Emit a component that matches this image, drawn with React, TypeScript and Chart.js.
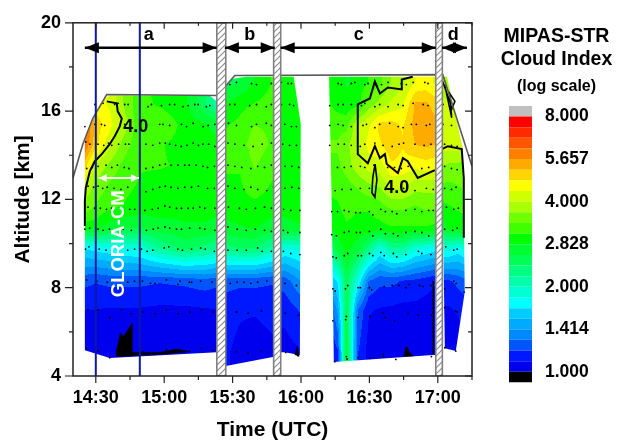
import React, { useEffect, useRef } from "react";
import { Chart, registerables } from "chart.js";

Chart.register(...registerables);

const FONT = '"Liberation Sans", Arial, sans-serif';

// Time is minutes after 14:00 UTC, altitude is km.
const xTickLabels: Record<number, string> = { 30: "14:30", 60: "15:00", 90: "15:30", 120: "16:00", 150: "16:30", 180: "17:00" };
const xTicks = [30, 45, 60, 75, 90, 105, 120, 135, 150, 165, 180, 195];
const yTicks = [4, 6, 8, 10, 12, 14, 16, 18, 20];

const colorBounds = [1, 1.09, 1.19, 1.3, 1.41, 1.54, 1.68, 1.83, 2, 2.18, 2.38, 2.59, 2.83, 3.08, 3.36, 3.67, 4, 4.36, 4.76, 5.19, 5.66, 6.17, 6.73, 7.34, 8];
const colorLevels = ["#0000ee", "#0018ff", "#0055ff", "#0088ff", "#00aaff", "#00ccff", "#00ffff", "#00ffd5", "#00ffaa", "#00ff80", "#00ff55", "#00ff30", "#00ff00", "#40ff00", "#70ff00", "#aaff00", "#d0ff00", "#ffff00", "#ffd500", "#ffaa00", "#ff8000", "#ff5500", "#ff2a00", "#ff0000"];
const colorbarTicks = [1, 1.414, 2, 2.828, 4, 5.657, 8];

// Altitudes of the grid rows, top to bottom (each column below follows this order).
const gridAlts = [17.3, 16.3, 15.4, 14.5, 13.55, 12.6, 11.6, 10.7, 9.8, 8.3, 7, 5.1];

const blockATimes = [25.2, 30, 36.1, 42.7, 49.3, 58, 69, 77.8, 83];
const blockAValues = [
  [6.4, 6.4, 6.4, 6.2, 5, 3.95, 3.5, 2.9, 1.7, 1.22, 1.09, 1.05],
  [4.6, 4.6, 5, 4.9, 3.95, 3.6, 3.3, 2.9, 1.75, 1.2, 1.09, 1.05],
  [4.3, 4.3, 4.5, 4.1, 3.6, 3.3, 3.1, 2.7, 1.8, 1.22, 1.08, 1.03],
  [3.6, 3.6, 3.85, 3.5, 3.25, 3.15, 3.05, 2.6, 1.85, 1.22, 1.08, 1.02],
  [3.15, 3.15, 3.1, 3.15, 3.1, 3.05, 2.95, 2.6, 1.9, 1.22, 1.08, 1.02],
  [3, 3.05, 3.3, 3.1, 3.1, 3, 2.95, 2.7, 2.2, 1.2, 1.07, 1.02],
  [2.9, 2.9, 3, 3, 3.05, 3, 2.9, 2.8, 2.45, 1.22, 1.07, 1.02],
  [2.4, 2.4, 2.85, 2.9, 3, 2.95, 2.9, 2.8, 2.3, 1.25, 1.08, 1.03],
  [2.1, 2.1, 2.75, 2.9, 2.95, 2.95, 2.9, 2.75, 2.2, 1.22, 1.09, 1.05],
];
const blockAOutline = [[25.2, 5.17], [36.1, 4.81], [83.1, 5.08], [83.1, 16.44], [80, 16.71], [36.1, 16.71], [33.9, 16.57], [29.6, 15.85], [25.2, 14.64]];

const blockBTimes = [87, 93.2, 99.7, 107.6, 112.9, 119.5];
const blockBValues = [
  [2.5, 2.85, 3.05, 3.2, 3.1, 3.05, 2.95, 2.75, 2.3, 1.24, 1.12, 1.1],
  [2.6, 3, 3.15, 3.2, 3.1, 3.05, 3, 2.8, 2.4, 1.22, 1.1, 1.07],
  [2.85, 3.1, 3.35, 3.55, 3.4, 3.2, 3, 2.85, 2.4, 1.22, 1.1, 1.04],
  [3.1, 3.2, 3.3, 3.3, 3.15, 3.05, 2.95, 2.7, 2.1, 1.2, 1.12, 1.07],
  [2.95, 2.95, 3, 3, 3, 2.95, 2.9, 2.75, 1.85, 1.24, 1.12, 1.05],
  [2.85, 2.95, 2.95, 3.05, 2.95, 2.95, 2.95, 2.8, 1.9, 1.4, 1.2, 1.08],
];
const blockBOutline = [[87, 4.45], [87, 17.11], [90.1, 17.47], [96, 17.56], [116.8, 17.56], [119.9, 15.4], [119.5, 4.95], [112.9, 5.08], [111, 5.08], [107.6, 4.86]];

const blockCTimes = [132.6, 136.1, 140, 144.9, 149.7, 154.6, 159.8, 164.6, 170.3, 174.7, 179.1];
const blockCValues = [
  [2.95, 3.1, 3.2, 3.4, 3.3, 3.15, 3, 2.85, 2.3, 1.55, 1.18, 1.08],
  [2.95, 3, 3.2, 3.4, 3.3, 3.15, 3.05, 2.95, 2.7, 1.7, 1.45, 1.18],
  [2.8, 2.9, 3.25, 3.6, 3.5, 3.25, 3.15, 3.05, 2.9, 2.5, 2.55, 2.7],
  [2.9, 3, 3.95, 3.95, 3.9, 3.4, 3.1, 3, 2.7, 1.85, 1.3, 1.2],
  [3.1, 3.5, 4.3, 4.5, 4.2, 3.6, 3.1, 3, 2.3, 1.3, 1.1, 1.05],
  [3.3, 3.8, 4.9, 4.7, 4.2, 3.7, 3.2, 3, 1.85, 1.22, 1.08, 1.03],
  [3.7, 4.1, 4.9, 5.1, 4.7, 4.1, 3.4, 3.05, 2.2, 1.22, 1.07, 1.03],
  [3.9, 4.3, 4.7, 4.8, 4.6, 4.1, 3.4, 3.05, 2.2, 1.18, 1.06, 1.02],
  [4.4, 5.3, 5.4, 5.2, 4.5, 3.8, 3.3, 3.05, 1.9, 1.16, 1.06, 1.02],
  [4.5, 5.3, 5.5, 5.3, 4.6, 3.8, 3.4, 3.05, 1.85, 1.13, 1.05, 1.02],
  [4.3, 5, 5.3, 5.2, 4.5, 3.8, 3.4, 3, 1.75, 1.1, 1.04, 1.02],
];
const blockCOutline = [[132.3, 17.56], [179.2, 17.56], [179.2, 4.95], [177.8, 4.95], [134.4, 4.63], [133.4, 12.16]];

const blockDTimes = [182.2, 185.3, 188.8, 191.8];
const blockDValues = [
  [3.8, 4.1, 4.2, 4.15, 3.7, 3.3, 3, 2.7, 1.9, 1.18, 1.07, 1.02],
  [3.7, 4.05, 4.2, 4.2, 3.6, 3.3, 3.05, 2.9, 1.9, 1.18, 1.08, 1.02],
  [3.6, 3.95, 4.2, 4.2, 3.6, 3.35, 3.1, 2.95, 1.8, 1.22, 1.1, 1.04],
  [3.6, 3.85, 4.1, 4.1, 3.6, 3.4, 3.15, 2.95, 1.9, 1.26, 1.12, 1.07],
];
const blockDOutline = [[181.3, 17.56], [184, 17.56], [191, 14.28], [191.4, 11.93], [191.8, 7.79], [187.9, 5.13], [183.1, 5.26]];

// Flight envelope (grey line).
const envelope = [[20, 12.97], [24.3, 14.5], [28.7, 15.67], [34.8, 16.75], [83.07, 16.71], [87.5, 17.2], [91, 17.61], [182.2, 17.65], [195, 13.5]];

// 4.0 contours.
const contourA = [[34.8, 16.44], [39.2, 16.35], [39.6, 15.99], [41.4, 15.67], [40.5, 15.31], [38.3, 14.86], [36.1, 14.5], [32.6, 14.05], [29.6, 13.73], [27.4, 13.28], [25.6, 12.52], [25.2, 11.93], [25.2, 10.8]];
const contourC = [[169, 17.56], [164.2, 17.43], [164.2, 16.98], [158.1, 17.07], [154.6, 16.8], [152.4, 17.34], [150.2, 16.57], [144.9, 16.3], [144.9, 14.95], [144.9, 14.05], [149.3, 13.64], [152.4, 14.41], [154.6, 13.87], [156.8, 14.05], [157.6, 13.6], [162.5, 13.19], [164.7, 13.87], [166.8, 13.73], [171.2, 12.97], [178.7, 13.33]];
const contourCLoop = [[152.5, 13.6], [153.3, 12.9], [152.4, 12.1], [151.1, 12.3], [151.5, 13], [152.5, 13.6]];
const contourD = [[181.8, 14.28], [184.4, 14.41], [190.5, 14.28], [191.4, 12.97], [191.4, 10.26]];
const contourDTop = [[181.8, 17.43], [185.3, 16.44], [186.1, 16.08], [187.5, 16.44], [185.2, 16.8], [186.1, 15.7], [183, 17.2]];
const edgeLineC = [[178, 8.3], [178, 5]];

// Regions below 1.000 (black).
const blackA = [[38.8, 5.03], [40.8, 5.97], [42, 5.78], [45.9, 6.38], [45.9, 5.07], [58.1, 5.07], [65.4, 5.22], [71.2, 5.1], [58.1, 4.98], [39, 4.88]];
const blackB = [[117.3, 4.95], [118.3, 5.33], [119.2, 4.88]];
const blackC = [[165.1, 4.88], [166, 5.33], [166.8, 5.28], [167.4, 5.1], [169.2, 4.9]];

// Measurement points, by nominal tangent altitude.
const dots17 = [[88.8, 17.2], [91.7, 17.3], [98.3, 17.25], [100.5, 17.2], [107, 17.25], [109.2, 17.3], [111.4, 17.3], [114.3, 17.25], [115.8, 17.25], [136.3, 17.25], [137.7, 17.2], [142.1, 17.25], [143.6, 17.3], [148, 17.2], [149.4, 17.25], [153.1, 17.15], [155.3, 17.2], [158.2, 17.3], [164, 17.25], [166.2, 17.2], [169.2, 17.3], [174.3, 17.3], [175.7, 17.25], [182.3, 17.25]];
const dots16 = [[29.6, 16.3], [33.2, 16.35], [38.3, 16.3], [39.8, 16.35], [42.7, 16.3], [44.2, 16.3], [52.9, 16.2], [54.4, 16.3], [58.8, 16.25], [62.4, 16.3], [64.6, 16.3], [68.3, 16.2], [70.5, 16.25], [73.4, 16.3], [74.9, 16.3], [78.5, 16.2], [80, 16.25], [88.8, 16.3], [91, 16.3], [97.5, 16.25], [100.5, 16.3], [104.8, 16.2], [107, 16.3], [111.4, 16.3], [115, 16.3], [116.8, 16.25], [132.6, 16.25], [136.3, 16.3], [138.5, 16.3], [142.1, 16.3], [146.5, 16.25], [148, 16.35], [152.4, 16.2], [154.5, 16.3], [158.2, 16.2], [162.6, 16.3], [164.8, 16.25], [169.2, 16.35], [173.6, 16.3], [175.7, 16.25], [182.3, 16.3], [186, 16.2]];
const dots15 = [[25.2, 15.3], [29.6, 15.4], [32.5, 15.4], [33.9, 15.35], [42.7, 15.4], [58, 15.4], [59.5, 15.4], [62.4, 15.35], [67.6, 15.4], [69.8, 15.3], [72.7, 15.45], [77.1, 15.3], [79.3, 15.35], [82.2, 15.4], [88.2, 15.45], [91.7, 15.35], [98.3, 15.3], [100.5, 15.4], [104.8, 15.45], [107, 15.35], [112.9, 15.4], [115.8, 15.3], [118, 15.3], [132.6, 15.35], [136.3, 15.4], [138.5, 15.35], [142.1, 15.3], [147.2, 15.35], [148.7, 15.4], [152.4, 15.25], [154.5, 15.4], [158.9, 15.45], [162.6, 15.3], [164.8, 15.25], [168.4, 15.4], [170.6, 15.4], [175, 15.35], [176.5, 15.4], [182.3, 15.4], [186, 15.35]];
const dots14 = [[25.6, 14.6], [27.4, 14.5], [31, 14.5], [33.5, 14.45], [35.6, 14.55], [37, 14.45], [40, 14.5], [43, 14.5], [44.5, 14.5], [52, 14.5], [55, 14.45], [58, 14.55], [60.5, 14.55], [62.4, 14.5], [65, 14.45], [67.5, 14.4], [70, 14.45], [72.7, 14.55], [75, 14.45], [77, 14.5], [79.5, 14.5], [82.2, 14.4], [88, 14.55], [91, 14.5], [95, 14.45], [99, 14.4], [103, 14.5], [107, 14.55], [112, 14.5], [115, 14.45], [118, 14.45], [132.6, 14.45], [136.3, 14.5], [139, 14.5], [142, 14.45], [146, 14.4], [148, 14.5], [152.4, 14.55], [156, 14.45], [160, 14.4], [163, 14.5], [165, 14.55], [170, 14.5], [174, 14.45], [177, 14.5], [183, 14.5], [186, 14.45], [188.5, 14.4]];
const dots13 = [[26, 13.4], [28.5, 13.45], [31, 13.5], [34.5, 13.55], [37, 13.45], [39.5, 13.55], [42.5, 13.45], [44.5, 13.4], [52, 13.4], [55, 13.45], [58, 13.55], [60.5, 13.6], [63, 13.55], [66, 13.55], [69, 13.55], [71, 13.55], [74, 13.55], [77, 13.5], [79, 13.45], [82, 13.5], [88, 13.55], [91, 13.5], [94, 13.45], [98, 13.4], [101, 13.5], [104, 13.45], [107, 13.55], [113, 13.5], [116, 13.5], [119, 13.45], [136, 13.45], [139, 13.45], [142, 13.5], [146, 13.5], [148, 13.45], [152, 13.55], [158, 13.45], [161, 13.45], [164, 13.4], [167, 13.5], [173, 13.4], [176, 13.45], [183, 13.5], [186, 13.4], [188.5, 13.35]];
const dots12 = [[26.6, 12.6], [29, 12.55], [31, 12.6], [33, 12.5], [35, 12.55], [38, 12.5], [41, 12.45], [44, 12.55], [52, 12.35], [55, 12.45], [58, 12.55], [60.5, 12.6], [63, 12.55], [66, 12.5], [69, 12.55], [72, 12.55], [75, 12.6], [79, 12.5], [82, 12.5], [88, 12.6], [91, 12.5], [95, 12.45], [98, 12.55], [101, 12.45], [105, 12.4], [108, 12.55], [113, 12.5], [116, 12.55], [119, 12.5], [135, 12.4], [138, 12.45], [142, 12.45], [146, 12.5], [150, 12.5], [157, 12.45], [160, 12.45], [165, 12.5], [170, 12.4], [175, 12.5], [178, 12.45], [183, 12.5], [186, 12.45], [188, 12.55]];
const dots11 = [[26.6, 11.65], [29.5, 11.6], [32, 11.6], [34.7, 11.55], [36.9, 11.6], [44.9, 11.55], [47.1, 11.55], [51.5, 11.5], [54.8, 11.55], [57.3, 11.6], [60.3, 11.7], [62.4, 11.65], [65.4, 11.6], [67.6, 11.6], [70.5, 11.6], [72.7, 11.6], [75.6, 11.65], [77.8, 11.6], [82.2, 11.6], [88.2, 11.65], [93, 11.6], [96, 11.55], [100, 11.6], [104, 11.65], [107, 11.6], [112.4, 11.55], [115.5, 11.5], [119.5, 11.5], [133.5, 11.45], [136, 11.45], [139, 11.5], [141, 11.45], [144, 11.4], [146, 11.4], [150, 11.45], [151.5, 11.3], [155, 11.55], [157, 11.45], [160, 11.45], [162, 11.35], [166, 11.5], [170, 11.55], [173, 11.45], [176, 11.5], [178, 11.5], [183.8, 11.65], [187, 11.55], [189, 11.6]];
const dots10 = [[25.2, 10.65], [27.3, 10.7], [31, 10.65], [33.2, 10.6], [36, 10.65], [42, 10.65], [45.6, 10.6], [49.3, 10.6], [52.2, 10.6], [55.2, 10.65], [57.3, 10.7], [60.3, 10.75], [62.4, 10.7], [65.4, 10.65], [67.6, 10.65], [71.2, 10.7], [75.6, 10.7], [77.8, 10.65], [82.2, 10.6], [88, 10.75], [92, 10.65], [96, 10.6], [100, 10.65], [104, 10.6], [107, 10.55], [112.3, 10.6], [114.2, 10.5], [119.5, 10.5], [133.5, 10.4], [135.5, 10.35], [139, 10.5], [141, 10.55], [144.3, 10.5], [146, 10.5], [150, 10.55], [151.5, 10.35], [155, 10.65], [157, 10.45], [160.5, 10.45], [162.5, 10.35], [166, 10.5], [170, 10.55], [173, 10.5], [176, 10.35], [183, 10.65], [186.5, 10.6], [188.5, 10.7]];
const dots9 = [[25.5, 9.75], [27, 9.85], [31.5, 9.75], [34.5, 9.7], [37, 9.75], [44, 9.7], [47, 9.75], [50, 9.75], [52.5, 9.65], [55, 9.7], [60, 9.8], [62, 9.85], [66, 9.75], [68, 9.7], [72, 9.75], [76, 9.8], [78, 9.75], [82, 9.65], [88, 9.7], [92, 9.7], [96, 9.7], [101, 9.8], [103, 9.65], [107, 9.65], [112.3, 9.65], [115.5, 9.55], [119.5, 9.5], [134, 9.4], [135.5, 9.35], [139, 9.45], [140.5, 9.55], [145, 9.45], [146.5, 9.45], [150, 9.55], [151.5, 9.45], [155, 9.6], [156.5, 9.45], [160.5, 9.55], [162, 9.4], [166, 9.5], [171.5, 9.65], [173, 9.55], [177, 9.5], [183.5, 9.85], [187, 9.7], [188.5, 9.75]];
const dots8 = [[26, 8.35], [30.5, 8.3], [35, 8.25], [37.5, 8.3], [44, 8.25], [47, 8.3], [50.5, 8.3], [54, 8.2], [56, 8.2], [61, 8.35], [66, 8.15], [67, 8.3], [71, 8.25], [72, 8.25], [76, 8.3], [81, 8.25], [83, 8.35], [89, 8.2], [92, 8.25], [95, 8.25], [98, 8.2], [101, 8.25], [105, 8.3], [113, 8.2], [118, 8.1], [134, 7.95], [135, 7.85], [139.5, 7.95], [140.5, 8.1], [145, 8], [146, 8], [150, 8], [151, 7.9], [156.5, 8.05], [160, 8.1], [163, 8.1], [166, 8], [167.5, 8.15], [172, 8.1], [173.5, 8.05], [177, 8.1], [183, 7.95], [187, 8.3], [188, 8.2], [191.5, 7.8]];
const dots7 = [[26.6, 7], [31, 6.98], [36.1, 6.65], [41.2, 7], [45.6, 6.83], [50.8, 6.9], [55.9, 6.83], [61, 6.98], [66.1, 6.83], [71.2, 6.9], [76.3, 7], [81.5, 6.9], [91.7, 6.9], [96.8, 6.85], [102.6, 6.95], [113, 6.85], [119, 6.75], [134, 6.5], [139.9, 6.7], [139.6, 6.55], [145, 6.65], [150.2, 6.7], [156, 6.85], [156.8, 6.65], [161, 6.5], [167, 6.85], [171.3, 6.75], [177.2, 6.75], [183, 7.1], [187.8, 6.95], [188.5, 6.9]];
const dots5 = [[25.9, 5.25], [31, 5.13], [36.1, 4.83], [50.8, 5.1], [55.9, 5], [61, 5.18], [65.4, 5.1], [71.2, 5.13], [76.3, 5.25], [81.5, 5.15], [91.7, 5.1], [96.8, 5.03], [102.6, 5.13], [113.3, 5.07], [118.7, 4.92], [134.8, 4.65], [139.9, 4.88], [140.2, 4.77], [145, 4.83], [150.2, 4.8], [156, 4.98], [156.3, 4.88], [161.6, 4.75], [177.2, 4.88], [183.1, 5.28], [187.9, 5.13]];

// Hatched gaps between the flight legs.
const gaps = [[83.07, 87], [108, 111.1], [179.1, 182]];
const verticalLines = [30, 49.3];

// Section arrows.
const sectionLabels = ["a", "b", "c", "d"];
const sectionStarts = [25.2, 86.6, 111.1, 181.8];
const sectionEnds = [83, 108.5, 179.1, 192.8];
const sectionLabelTimes = [53.2, 97.5, 145.3, 186.8];

const pts = (a: number[][]) => a.map(([x, y]) => ({ x, y }));

function levelColor(v: number) {
  let i = 0;
  while (i < colorLevels.length - 1 && v >= colorBounds[i + 1]) i++;
  return i;
}

function hexRgb(h: string) {
  return [parseInt(h.slice(1, 3), 16), parseInt(h.slice(3, 5), 16), parseInt(h.slice(5, 7), 16)];
}

function fieldValue(times: number[], values: number[][], t: number, a: number) {
  let c = 0;
  while (c < times.length - 2 && t > times[c + 1]) c++;
  let fx = (t - times[c]) / (times[c + 1] - times[c]);
  fx = Math.max(0, Math.min(1, fx));
  let r = 0;
  while (r < gridAlts.length - 2 && a < gridAlts[r + 1]) r++;
  let fy = (gridAlts[r] - a) / (gridAlts[r] - gridAlts[r + 1]);
  fy = Math.max(0, Math.min(1, fy));
  const l = (v: number) => Math.log(v);
  const top = l(values[c][r]) * (1 - fx) + l(values[c + 1][r]) * fx;
  const bot = l(values[c][r + 1]) * (1 - fx) + l(values[c + 1][r + 1]) * fx;
  return Math.exp(top * (1 - fy) + bot * fy);
}

const fieldPlugin = {
  id: "field",
  beforeDatasetsDraw(chart: any) {
    const { ctx, scales } = chart;
    const xs = scales.x;
    const ys = scales.y;
    const rgb = colorLevels.map(hexRgb);
    const blocks: [number[], number[][], number[][]][] = [
      [blockATimes, blockAValues, blockAOutline],
      [blockBTimes, blockBValues, blockBOutline],
      [blockCTimes, blockCValues, blockCOutline],
      [blockDTimes, blockDValues, blockDOutline],
    ];
    for (const [times, values, outline] of blocks) {
      const px = outline.map(([t, a]) => [xs.getPixelForValue(t), ys.getPixelForValue(a)]);
      const x0 = Math.floor(Math.min(...px.map((p) => p[0])));
      const x1 = Math.ceil(Math.max(...px.map((p) => p[0])));
      const y0 = Math.floor(Math.min(...px.map((p) => p[1])));
      const y1 = Math.ceil(Math.max(...px.map((p) => p[1])));
      const w = x1 - x0;
      const h = y1 - y0;
      const off = document.createElement("canvas");
      off.width = w;
      off.height = h;
      const oc = off.getContext("2d")!;
      const img = oc.createImageData(w, h);
      for (let j = 0; j < h; j++) {
        const a = ys.getValueForPixel(y0 + j + 0.5);
        for (let i = 0; i < w; i++) {
          const t = xs.getValueForPixel(x0 + i + 0.5);
          const c = rgb[levelColor(fieldValue(times, values, t, a))];
          const k = (j * w + i) * 4;
          img.data[k] = c[0];
          img.data[k + 1] = c[1];
          img.data[k + 2] = c[2];
          img.data[k + 3] = 255;
        }
      }
      oc.putImageData(img, 0, 0);
      ctx.save();
      ctx.beginPath();
      px.forEach((p, i) => (i ? ctx.lineTo(p[0], p[1]) : ctx.moveTo(p[0], p[1])));
      ctx.closePath();
      ctx.clip();
      ctx.drawImage(off, x0, y0);
      ctx.restore();
    }
  },
};

function arrowHead(ctx: CanvasRenderingContext2D, x: number, y: number, dir: number, len: number, half: number) {
  ctx.beginPath();
  ctx.moveTo(x, y);
  ctx.lineTo(x + dir * len, y - half);
  ctx.lineTo(x + dir * len, y + half);
  ctx.closePath();
  ctx.fill();
}

const annotationPlugin = {
  id: "annotations",
  afterDatasetsDraw(chart: any) {
    const { ctx, scales, chartArea: ca } = chart;
    const xs = scales.x;
    const ys = scales.y;
    ctx.save();
    // section arrows
    ctx.fillStyle = "#000";
    ctx.strokeStyle = "#000";
    ctx.lineWidth = 2.4;
    const yArrow = ys.getPixelForValue(18.87);
    const yLabel = ys.getPixelForValue(19.46);
    sectionLabels.forEach((lab, i) => {
      const a = xs.getPixelForValue(sectionStarts[i]);
      const b = xs.getPixelForValue(sectionEnds[i]);
      ctx.beginPath();
      ctx.moveTo(a, yArrow);
      ctx.lineTo(b, yArrow);
      ctx.stroke();
      arrowHead(ctx, a, yArrow, 1, 14, 5.5);
      arrowHead(ctx, b, yArrow, -1, 14, 5.5);
      ctx.font = `bold 18px ${FONT}`;
      ctx.textAlign = "center";
      ctx.textBaseline = "middle";
      ctx.fillText(lab, xs.getPixelForValue(sectionLabelTimes[i]), yLabel);
    });
    // contour labels
    ctx.font = `bold 18px ${FONT}`;
    ctx.fillText("4.0", xs.getPixelForValue(47.5), ys.getPixelForValue(15.27));
    ctx.fillText("4.0", xs.getPixelForValue(162), ys.getPixelForValue(12.52));
    // white instrument arrow
    ctx.strokeStyle = "#fff";
    ctx.fillStyle = "#fff";
    ctx.lineWidth = 2;
    const wa = xs.getPixelForValue(31.3);
    const wb = xs.getPixelForValue(48.9);
    const wy = ys.getPixelForValue(12.97);
    ctx.beginPath();
    ctx.moveTo(wa, wy);
    ctx.lineTo(wb, wy);
    ctx.stroke();
    arrowHead(ctx, wa, wy, 1, 8, 4);
    arrowHead(ctx, wb, wy, -1, 8, 4);
    ctx.save();
    ctx.translate(xs.getPixelForValue(40.1), ys.getPixelForValue(9.99));
    ctx.rotate(-Math.PI / 2);
    ctx.font = `bold 18.5px ${FONT}`;
    ctx.textBaseline = "middle";
    ctx.fillText("GLORIA-CM", 0, 0);
    ctx.restore();
    // frame and ticks
    ctx.strokeStyle = "#222";
    ctx.lineWidth = 1.5;
    ctx.strokeRect(ca.left, ca.top, ca.right - ca.left, ca.bottom - ca.top);
    ctx.lineWidth = 1.2;
    ctx.beginPath();
    xTicks.forEach((t) => {
      const x = xs.getPixelForValue(t);
      const major = t % 30 === 0;
      ctx.moveTo(x, ca.bottom);
      ctx.lineTo(x, ca.bottom + (major ? 7 : 4));
      ctx.moveTo(x, ca.top);
      ctx.lineTo(x, ca.top + (major ? 6 : 3));
    });
    yTicks.forEach((v) => {
      const y = ys.getPixelForValue(v);
      const major = v % 4 === 0;
      ctx.moveTo(ca.left, y);
      ctx.lineTo(ca.left - (major ? 8 : 4), y);
      ctx.moveTo(ca.right, y);
      ctx.lineTo(ca.right - (major ? 7 : 4), y);
    });
    ctx.stroke();
    ctx.restore();
  },
};

function makeHatch() {
  const c = document.createElement("canvas");
  c.width = 6;
  c.height = 6;
  const g = c.getContext("2d")!;
  g.fillStyle = "#fff";
  g.fillRect(0, 0, 6, 6);
  g.strokeStyle = "#8f8f8f";
  g.lineWidth = 1.2;
  g.beginPath();
  g.moveTo(-1, 7);
  g.lineTo(7, -1);
  g.moveTo(-1, 1);
  g.lineTo(1, -1);
  g.moveTo(5, 7);
  g.lineTo(7, 5);
  g.stroke();
  return g.createPattern(c, "repeat");
}

export default function App() {
  const mainRef = useRef<HTMLCanvasElement>(null);
  const barRef = useRef<HTMLCanvasElement>(null);

  useEffect(() => {
    const hatch = makeHatch();
    const allDots = [...dots17, ...dots16, ...dots15, ...dots14, ...dots13, ...dots12, ...dots11, ...dots10, ...dots9, ...dots8, ...dots7, ...dots5];
    const line = (data: number[][], color: string, width: number, order: number) => ({
      data: pts(data),
      showLine: true,
      borderColor: color,
      borderWidth: width,
      pointRadius: 0,
      fill: false,
      tension: 0,
      order,
    });
    const polygon = (data: number[][], order: number) => ({
      data: pts(data),
      showLine: true,
      borderColor: "#000",
      borderWidth: 0.5,
      backgroundColor: "#000",
      pointRadius: 0,
      fill: "shape",
      order,
    });
    const datasets: any[] = [
      ...verticalLines.map((t) => line([[t, 4], [t, 20]], "#0c1a9c", 2, 1)),
      ...gaps.map(([a, b]) => ({
        data: pts([[a, 4], [b, 4], [b, 20], [a, 20], [a, 4]]),
        showLine: true,
        borderColor: "#808080",
        borderWidth: 1.6,
        backgroundColor: hatch,
        pointRadius: 0,
        fill: "shape",
        order: 2,
      })),
      line(envelope, "#5a5a5a", 1.6, 3),
      line(contourA, "#000", 2, 4),
      line(contourC, "#000", 2, 4),
      line(contourCLoop, "#000", 1.6, 4),
      line(contourD, "#000", 2, 4),
      line(contourDTop, "#000", 1.5, 4),
      line(edgeLineC, "#000", 1.4, 4),
      {
        data: pts(allDots),
        showLine: false,
        pointRadius: 0.9,
        pointBorderWidth: 0,
        pointBackgroundColor: "#000",
        order: 5,
      },
      polygon(blackA, 6),
      polygon(blackB, 6),
      polygon(blackC, 6),
    ];
    const main = new Chart(mainRef.current!, {
      type: "scatter",
      data: { datasets },
      plugins: [fieldPlugin, annotationPlugin],
      options: {
        animation: false,
        responsive: false,
        devicePixelRatio: 1,
        layout: { padding: { top: 21, right: 145, left: 0, bottom: 0 } },
        plugins: { legend: { display: false }, tooltip: { enabled: false } },
        scales: {
          x: {
            type: "linear",
            min: 20,
            max: 195,
            afterFit: (s: any) => {
              s.height = 65;
            },
            afterBuildTicks: (s: any) => {
              s.ticks = xTicks.map((value) => ({ value }));
            },
            grid: { display: false, drawTicks: false },
            border: { display: false },
            ticks: {
              autoSkip: false,
              maxRotation: 0,
              padding: 11,
              color: "#000",
              font: { family: FONT, size: 18, weight: "bold" },
              callback: (v: any) => xTickLabels[v] ?? "",
            },
            title: {
              display: true,
              text: "Time (UTC)",
              color: "#000",
              font: { family: FONT, size: 21, weight: "bold" },
              padding: { top: 0, bottom: -2 },
            },
          },
          y: {
            type: "linear",
            min: 4,
            max: 20,
            afterFit: (s: any) => {
              s.width = 73;
            },
            afterBuildTicks: (s: any) => {
              s.ticks = yTicks.map((value) => ({ value }));
            },
            grid: { display: false, drawTicks: false },
            border: { display: false },
            ticks: {
              autoSkip: false,
              padding: 12,
              color: "#000",
              font: { family: FONT, size: 18, weight: "bold" },
              callback: (v: any) => (v % 4 === 0 ? String(v) : ""),
            },
            title: {
              display: true,
              text: "Altitude [km]",
              color: "#000",
              font: { family: FONT, size: 21, weight: "bold" },
              padding: { top: 11, bottom: 0 },
            },
          },
        },
      } as any,
    });

    const barSets: any[] = [
      { data: [[0.917, 1]], backgroundColor: "#000000" },
      ...colorLevels.map((c, i) => ({ data: [[colorBounds[i], colorBounds[i + 1]]], backgroundColor: c })),
      { data: [[8, 8.72]], backgroundColor: "#c0c0c0" },
    ];
    const bar = new Chart(barRef.current!, {
      type: "bar",
      data: { labels: ["index"], datasets: barSets },
      options: {
        animation: false,
        responsive: false,
        devicePixelRatio: 1,
        layout: { padding: { left: 0, right: 0, top: 0, bottom: 58.5 } },
        datasets: { bar: { grouped: false, barPercentage: 0.469, categoryPercentage: 1 } },
        plugins: {
          legend: { display: false },
          tooltip: { enabled: false },
          title: {
            display: true,
            text: ["MIPAS-STR", "Cloud Index"],
            color: "#000",
            font: { family: FONT, size: 19.5, weight: "bold", lineHeight: 1.2 },
            padding: { top: 24.5, bottom: 4 },
          },
          subtitle: {
            display: true,
            text: "(log scale)",
            color: "#000",
            font: { family: FONT, size: 16, weight: "bold", lineHeight: 1.2 },
            padding: { top: 1.6, bottom: 9.9 },
          },
        },
        scales: {
          x: { display: false },
          y: {
            type: "logarithmic",
            position: "right",
            min: 0.917,
            max: 8.72,
            afterFit: (s: any) => {
              s.width = 72;
            },
            afterBuildTicks: (s: any) => {
              s.ticks = colorbarTicks.map((value) => ({ value }));
            },
            grid: { display: false, drawTicks: false },
            border: { display: false },
            ticks: {
              autoSkip: false,
              padding: 0,
              color: "#000",
              font: { family: FONT, size: 17.5, weight: "bold" },
              callback: (v: any) => Number(v).toFixed(3),
            },
          },
        },
      } as any,
    });
    return () => {
      main.destroy();
      bar.destroy();
    };
  }, []);

  return (
    <>
      <canvas ref={mainRef} width={617} height={441} style={{ position: "absolute", left: 0, top: 0 }} />
      <canvas ref={barRef} width={121} height={441} style={{ position: "absolute", left: 496, top: 0 }} />
    </>
  );
}
